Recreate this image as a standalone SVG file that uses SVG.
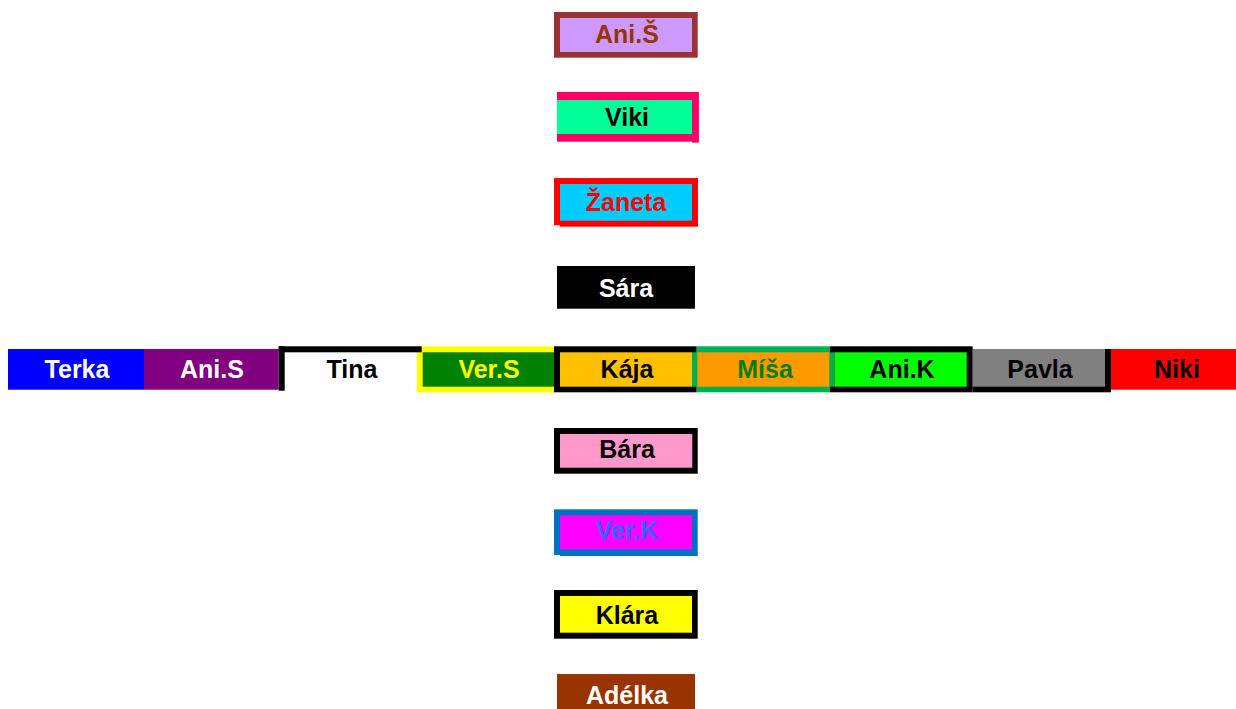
<svg xmlns="http://www.w3.org/2000/svg" width="1236" height="709" viewBox="0 0 1236 709">
<style>
text{font-family:"Liberation Sans",Arial,sans-serif;font-weight:bold;font-size:25px;text-anchor:middle}
.w{fill:#ffffff}.k{fill:#000000}
</style>
<rect x="0" y="0" width="1236" height="709" fill="#ffffff"/>
<g id="connectors"/>
<g id="node-aniS-hacek">
<rect x="554" y="12" width="143.7" height="45.7" fill="#993333"/>
<rect x="560" y="18" width="132" height="34" fill="#CC99FF"/>
<text x="627" y="43" fill="#993300">Ani.Š</text>
</g>
<g id="node-viki">
<rect x="557" y="92" width="141.7" height="49.7" fill="#FF0066"/>
<rect x="692" y="92" width="6.7" height="50.7" fill="#FF0066"/>
<rect x="557" y="100" width="135" height="34" fill="#00FF99"/>
<text x="627" y="126" class="k">Viki</text>
</g>
<g id="node-zaneta">
<rect x="554" y="178" width="144" height="47.3" fill="#FF0000"/>
<rect x="560" y="225" width="138" height="1.7" fill="#FF0000"/>
<rect x="560" y="184" width="132" height="36.7" fill="#00CCFF"/>
<text x="626" y="211" fill="#FF0000">Žaneta</text>
</g>
<g id="node-sara">
<rect x="557" y="266" width="138" height="42.7" fill="#000000"/>
<text x="626" y="297" class="w">Sára</text>
</g>
<g id="node-terka">
<rect x="8" y="349" width="136" height="40.7" fill="#0000FF"/>
<text x="77" y="378" class="w">Terka</text>
</g>
<g id="node-aniS">
<rect x="144" y="349" width="134.7" height="40.7" fill="#800080"/>
<text x="212" y="378" class="w">Ani.S</text>
</g>
<g id="node-verS">
<rect x="416.7" y="346.3" width="137.3" height="46" fill="#FFFF00"/>
<rect x="422.7" y="352.3" width="131.3" height="34.4" fill="#008000"/>
<text x="489" y="378" fill="#FFFF00">Ver.S</text>
</g>
<g id="node-tina">
<rect x="284.7" y="352.3" width="132" height="37.4" fill="#ffffff"/>
<rect x="278.7" y="346.3" width="143" height="6" fill="#000000"/>
<rect x="278.7" y="346.3" width="6" height="44.4" fill="#000000"/>
<text x="352" y="378" class="k">Tina</text>
</g>
<g id="node-kaja">
<rect x="554" y="346.3" width="142.7" height="46" fill="#000000"/>
<rect x="560" y="352.3" width="132" height="34.4" fill="#FFC000"/>
<text x="627" y="378" class="k">Kája</text>
</g>
<g id="node-aniK">
<rect x="830" y="346.3" width="142.7" height="46" fill="#000000"/>
<rect x="834.7" y="352.3" width="132" height="34.4" fill="#00FF00"/>
<text x="902" y="378" class="k">Ani.K</text>
</g>
<g id="node-misa">
<rect x="696.7" y="346.3" width="133.3" height="46" fill="#00B050"/>
<rect x="692" y="352.3" width="5" height="34.4" fill="#00B050"/>
<rect x="829" y="352.3" width="5.7" height="34.4" fill="#00B050"/>
<rect x="697.3" y="352.3" width="132" height="34.4" fill="#FF9900"/>
<text x="765" y="378" fill="#008000">Míša</text>
</g>
<g id="node-pavla">
<rect x="972.7" y="349" width="138.3" height="43.3" fill="#000000"/>
<rect x="972.7" y="349" width="132.3" height="37.7" fill="#808080"/>
<text x="1040" y="378" class="k">Pavla</text>
</g>
<g id="node-niki">
<rect x="1111" y="349" width="125" height="40.7" fill="#FF0000"/>
<text x="1177" y="378" class="k">Niki</text>
</g>
<g id="node-bara">
<rect x="554" y="428" width="143.7" height="45.7" fill="#000000"/>
<rect x="560" y="434" width="132.3" height="33.7" fill="#FF99CC"/>
<text x="627" y="458" class="k">Bára</text>
</g>
<g id="node-verK">
<rect x="554" y="509.3" width="143.7" height="45.7" fill="#0070C0"/>
<rect x="560" y="554" width="137.7" height="2" fill="#0070C0"/>
<rect x="560" y="515.3" width="132" height="34" fill="#FF00FF"/>
<text x="627" y="539" fill="#3366FF">Ver.K</text>
</g>
<g id="node-klara">
<rect x="554" y="590" width="143.7" height="48.7" fill="#000000"/>
<rect x="560" y="596" width="132" height="36.7" fill="#FFFF00"/>
<text x="627" y="624" class="k">Klára</text>
</g>
<g id="node-adelka">
<rect x="557" y="674" width="138" height="40" fill="#993300"/>
<text x="627" y="704" class="w">Adélka</text>
</g>
</svg>
